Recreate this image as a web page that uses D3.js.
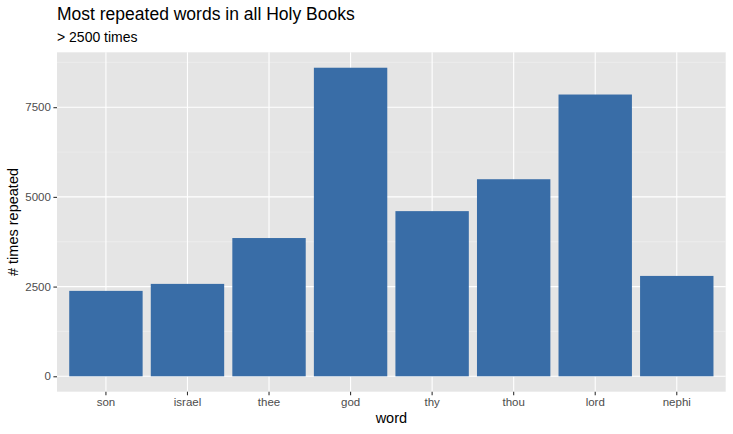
<!DOCTYPE html>
<html>
<head>
<meta charset="utf-8">
<script src="https://cdn.jsdelivr.net/npm/d3@7"></script>
<style>
  body { margin: 0; background: #fff; }
  text { font-family: "Liberation Sans", Arial, sans-serif; }
</style>
</head>
<body>
<svg class="chart"></svg>
<script>
// data
var words = ['son', 'israel', 'thee', 'god', 'thy', 'thou', 'lord', 'nephi'];
var counts = [2380, 2575, 3853, 8600, 4603, 5492, 7853, 2797];
var yTicks = [0, 2500, 5000, 7500];
var yMinor = [1250, 3750, 6250, 8750];

var width = 733, height = 434;
// panel edges (note: "top" is taken by window.top)
var pLeft = 57, pRight = 725.7, pTop = 52.3, pBottom = 391.7;

var chart = d3.select(".chart")
    .attr("width", width)
    .attr("height", height);

//scales, with ggplot style expansion
var yMax = d3.max(counts);
var y = d3.scaleLinear()
    .domain([-0.05 * yMax, 1.05 * yMax])
    .range([pBottom, pTop]);

//0.6 of a step on each side -> outer padding 0.15 step
var x = d3.scaleBand()
    .domain(words)
    .range([pLeft, pRight])
    .paddingInner(0.1)
    .paddingOuter(0.15);

//panel background
chart.append("rect")
    .attr("x", pLeft).attr("y", pTop)
    .attr("width", pRight - pLeft).attr("height", pBottom - pTop)
    .style("fill", "#e5e5e5");

//minor grid
chart.selectAll(".minor").data(yMinor)
  .enter().append("line")
    .attr("x1", pLeft).attr("x2", pRight)
    .attr("y1", y).attr("y2", y)
    .style("stroke", "#f2f2f2").style("stroke-width", 0.55);

//major grid
chart.selectAll(".hmajor").data(yTicks)
  .enter().append("line")
    .attr("x1", pLeft).attr("x2", pRight)
    .attr("y1", y).attr("y2", y)
    .style("stroke", "#fff").style("stroke-width", 1.1);

chart.selectAll(".vmajor").data(words)
  .enter().append("line")
    .attr("x1", function(d) { return x(d) + x.bandwidth() / 2; })
    .attr("x2", function(d) { return x(d) + x.bandwidth() / 2; })
    .attr("y1", pTop).attr("y2", pBottom)
    .style("stroke", "#fff").style("stroke-width", 1.1);

//bars
chart.selectAll(".bar").data(counts)
  .enter().append("rect")
    .attr("x", function(d, i) { return x(words[i]); })
    .attr("width", x.bandwidth())
    .attr("y", function(d) { return y(d); })
    .attr("height", function(d) { return y(0) - y(d); })
    .style("fill", "#396da7");

//axes
var yAxis = chart.append("g")
    .attr("transform", "translate(" + pLeft + ",0)")
    .call(d3.axisLeft(y).tickValues(yTicks).tickFormat(d3.format("d"))
      .tickSize(3.6).tickPadding(2.5));
var xAxis = chart.append("g")
    .attr("transform", "translate(0," + pBottom + ")")
    .call(d3.axisBottom(x).tickSize(3.6).tickPadding(3));

[xAxis, yAxis].forEach(function(a) {
  a.select(".domain").remove();
  a.selectAll(".tick line").style("stroke", "#333").style("stroke-width", 1.1);
  a.selectAll(".tick text")
      .style("fill", "#4d4d4d")
      .style("font-size", "11.5px")
      .style("font-family", '"Liberation Sans", Arial, sans-serif');
});

//titles
chart.append("text")
    .attr("x", pLeft).attr("y", 20)
    .style("font-size", "17.5px").style("fill", "#000")
    .text("Most repeated words in all Holy Books");

chart.append("text")
    .attr("x", pLeft).attr("y", 42)
    .style("font-size", "14px").style("fill", "#000")
    .text("> 2500 times");

chart.append("text")
    .attr("x", (pLeft + pRight) / 2).attr("y", 423)
    .attr("text-anchor", "middle")
    .style("font-size", "14.5px").style("fill", "#000")
    .text("word");

chart.append("text")
    .attr("transform", "translate(17.5," + (pTop + pBottom) / 2 + ") rotate(-90)")
    .attr("text-anchor", "middle")
    .style("font-size", "14.5px").style("fill", "#000")
    .text("# times repeated");
</script>
</body>
</html>
